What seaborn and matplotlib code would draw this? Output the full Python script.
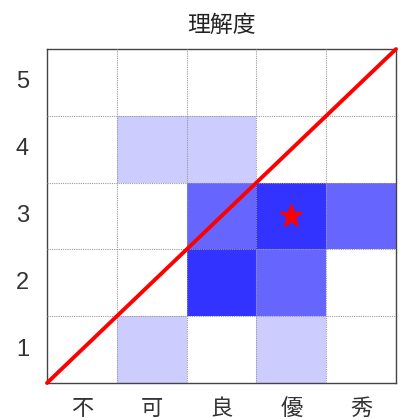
import numpy as np
import pandas as pd
import matplotlib
matplotlib.use("Agg")
import matplotlib.pyplot as plt
from matplotlib.colors import ListedColormap
import seaborn as sns

# grades along x, understanding level along y
grades = ["不", "可", "良", "優", "秀"]
levels = [1, 2, 3, 4, 5]
# counts per cell, one list per level (1 at the bottom)
level1 = [0, 1, 0, 1, 0]
level2 = [0, 0, 3, 2, 0]
level3 = [0, 0, 2, 3, 2]
level4 = [0, 1, 1, 0, 0]
level5 = [0, 0, 0, 0, 0]
star_grade = "優"
star_level = 3

sns.set_theme(style="white")
plt.rcParams["font.family"] = ["Noto Sans CJK JP", "DejaVu Sans"]

counts = pd.DataFrame([level5, level4, level3, level2, level1],
                      index=levels[::-1], columns=grades)

cmap = ListedColormap(["#FFFFFF", "#CCCCFF", "#6666FF", "#3333FF"])

fig = plt.figure(figsize=(4.03, 4.19), dpi=100)
ax = fig.add_axes([0.1166, 0.0859, 0.866, 0.797])

sns.heatmap(counts, cmap=cmap, vmin=-0.5, vmax=3.5, cbar=False, ax=ax,
            linewidths=0, square=False)

# dotted grid on cell borders
for k in range(1, 5):
    ax.axvline(k, color="#999999", linestyle=(0, (1, 1)), linewidth=0.8, zorder=3)
    ax.axhline(k, color="#999999", linestyle=(0, (1, 1)), linewidth=0.8, zorder=3)

# diagonal from bottom-left to top-right
n = len(grades)
ax.plot([0, n], [n, 0], color="red", linewidth=2.8, zorder=4, clip_on=False)

# star marker
sx = grades.index(star_grade) + 0.5
sy = counts.index.get_loc(star_level) + 0.5
ax.plot([sx], [sy], marker="*", color="red", markersize=17, zorder=5)

for s in ax.spines.values():
    s.set_visible(True)
    s.set_color("#444444")
    s.set_linewidth(1.0)

ax.set_xlabel("")
ax.set_ylabel("")
ax.tick_params(axis="both", length=0, colors="#333333")
ax.tick_params(axis="x", pad=10, labelsize=16)
ax.tick_params(axis="y", pad=13)
plt.setp(ax.get_yticklabels(), rotation=0, family="Liberation Sans", fontsize=17)
ax.set_title("理解度", fontsize=16.5, pad=12, color="#222222")

fig.savefig("out.png", dpi=100)
